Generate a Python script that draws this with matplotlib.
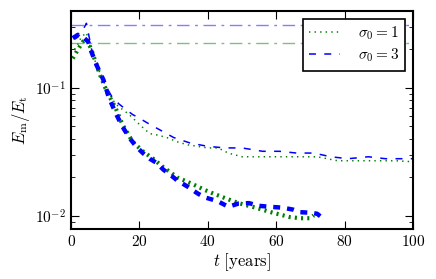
import matplotlib
matplotlib.use("Agg")
import matplotlib.pyplot as plt

plt.rcParams['mathtext.fontset'] = 'cm'
plt.rcParams['font.family'] = 'DejaVu Serif'
plt.rcParams['font.size'] = 10
plt.rcParams['lines.scale_dashes'] = False

# sigma0 = 1, long run (thin dotted)
t_s1_long = [1, 2, 3, 4.5, 6, 8.5, 10.5, 13, 15, 17, 19, 21, 23, 25, 28, 31, 34, 37, 40,
             43, 46, 50, 57, 62, 67, 72, 78, 84, 90, 95, 100]
e_s1_long = [0.2, 0.22, 0.25, 0.27, 0.19, 0.13, 0.096, 0.075, 0.068, 0.062, 0.055, 0.049,
             0.044, 0.043, 0.041, 0.038, 0.036, 0.035, 0.034, 0.034, 0.031, 0.029, 0.029,
             0.029, 0.029, 0.029, 0.027, 0.027, 0.027, 0.027, 0.0265]

# sigma0 = 3, long run (thin dashed)
t_s3_long = [1, 2, 3, 4.5, 6, 8, 10, 12, 14, 16, 18, 20, 23, 26, 30, 35, 40, 45, 50, 56,
             61, 66, 71, 76, 81, 87, 92, 97, 100]
e_s3_long = [0.24, 0.25, 0.27, 0.32, 0.2, 0.146, 0.105, 0.085, 0.075, 0.068, 0.062, 0.058,
             0.052, 0.047, 0.041, 0.037, 0.035, 0.034, 0.034, 0.032, 0.032, 0.031, 0.031,
             0.029, 0.028, 0.029, 0.028, 0.028, 0.028]

# sigma0 = 1, short run (thick dotted)
t_s1_short = [0.5, 2, 3.5, 4.7, 6.2, 8.5, 10.5, 13, 15, 18, 21, 24, 27, 29, 31, 33, 35, 37,
              39, 41.5, 45, 49, 54, 59, 64, 67, 70, 71]
e_s1_short = [0.17, 0.2, 0.23, 0.24, 0.19, 0.126, 0.093, 0.07, 0.052, 0.038, 0.032, 0.028,
              0.024, 0.022, 0.02, 0.019, 0.018, 0.017, 0.016, 0.015, 0.0138, 0.0126, 0.0116,
              0.0106, 0.0098, 0.0096, 0.0096, 0.0101]

# sigma0 = 3, short run (thick dashed)
t_s3_short = [0.5, 2, 3.5, 5, 6, 7.5, 9.5, 11, 13, 15, 17, 19, 21, 23, 25, 27, 29, 31, 34,
              37, 39, 41, 43, 46, 49, 52, 55, 58, 62, 65, 67, 70, 72, 73]
e_s3_short = [0.245, 0.26, 0.25, 0.23, 0.19, 0.15, 0.115, 0.085, 0.064, 0.05, 0.041, 0.035,
              0.031, 0.028, 0.026, 0.023, 0.021, 0.019, 0.017, 0.015, 0.014, 0.0135, 0.013,
              0.0118, 0.0125, 0.0126, 0.012, 0.0118, 0.0116, 0.0112, 0.0107, 0.0106, 0.0104,
              0.0099]

# reference levels
level_s3 = 0.31
level_s1 = 0.226

x_ticks = [0, 20, 40, 60, 80, 100]
y_ticks = [0.01, 0.1]
y_tick_labels = [r'$10^{-2}$', r'$10^{-1}$']

green = (0, 0.5, 0)
blue = (0, 0, 1)

fig = plt.figure(figsize=(4.36, 2.79), dpi=100)
ax = fig.add_axes([0.163, 0.179, 0.784, 0.782])

ax.axhline(level_s3, color=blue, alpha=0.5, lw=1, dashes=(9, 4, 2, 4))
ax.axhline(level_s1, color=green, alpha=0.5, lw=1, dashes=(9, 4, 2, 4))

ax.plot(t_s1_long, e_s1_long, color=green, lw=1.1, dashes=(1, 3), label=r'$\sigma_0 = 1$')
ax.plot(t_s3_long, e_s3_long, color=blue, lw=1.1, dashes=(5, 6), label=r'$\sigma_0 = 3$')
ax.plot(t_s1_short, e_s1_short, color=green, lw=3, dashes=(1.5, 3))
ax.plot(t_s3_short, e_s3_short, color=blue, lw=3.2, dashes=(5, 5))

ax.set_yscale('log')
ax.set_xlim(0, 100)
ax.set_ylim(0.0079, 0.4)
ax.set_xticks(x_ticks)
ax.set_xticklabels([f'${v}$' for v in x_ticks])
ax.set_yticks(y_ticks)
ax.set_yticklabels(y_tick_labels)
ax.tick_params(which='both', direction='in', top=True, right=True)
ax.tick_params(which='major', length=6, labelsize=11)
ax.tick_params(which='minor', length=3)
ax.tick_params(axis='y', which='minor', labelleft=False)
for s in ax.spines.values():
    s.set_linewidth(1.5)

ax.set_xlabel(r'$t\ \mathrm{[years]}$', fontsize=12, labelpad=2)
ax.set_ylabel(r'$E_\mathrm{m}/E_\mathrm{t}$', fontsize=12, labelpad=2)

leg = ax.legend(loc='upper right', fancybox=False, framealpha=1, fontsize=11,
                handlelength=2.0, borderaxespad=0.5, labelspacing=0.3,
                handletextpad=1.2)
leg.get_frame().set_edgecolor('black')
leg.get_frame().set_linewidth(1.2)

fig.savefig('out.png', dpi=100)
